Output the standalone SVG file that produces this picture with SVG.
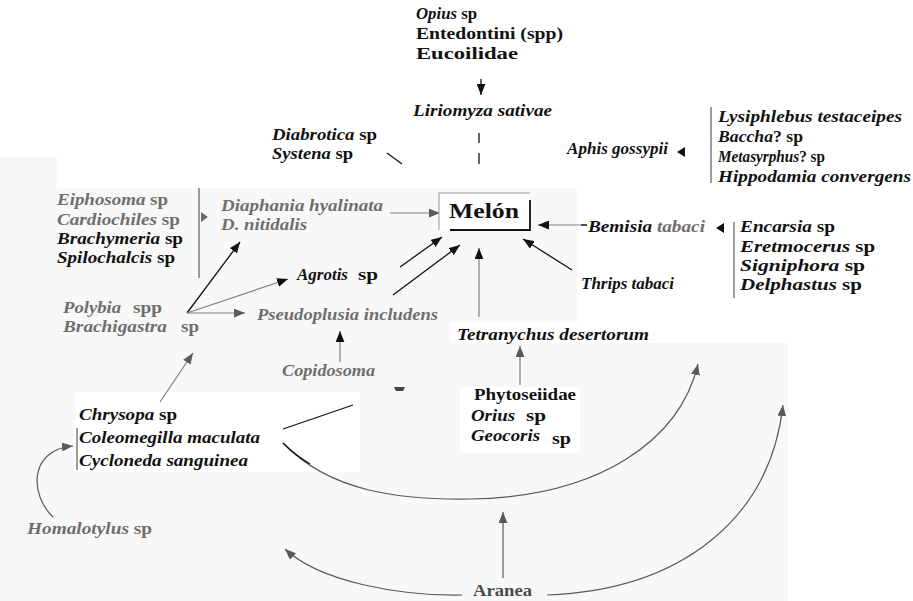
<svg xmlns="http://www.w3.org/2000/svg" width="913" height="601" viewBox="0 0 913 601" font-family="Liberation Serif, Times New Roman, serif">
<style>
text{font-weight:bold;font-size:17px;fill:#111}
.i{font-style:italic}
.g{fill:#6e6e6e}
.a{fill:#4a4a4a}
.lb{stroke:#111;stroke-width:1.3;fill:none}
.lg{stroke:#808080;stroke-width:1.2;fill:none}
.la{stroke:#5a5a5a;stroke-width:1.2;fill:none}
.hb{fill:#111}
.hg{fill:#6a6a6a}
</style>
<defs>
<marker id="mb" viewBox="0 0 10 8" refX="10" refY="4" markerWidth="11" markerHeight="9" markerUnits="userSpaceOnUse" orient="auto"><path d="M0,0 L10,4 L0,8 z" fill="#111"/></marker>
<marker id="mg" viewBox="0 0 10 8" refX="10" refY="4" markerWidth="11" markerHeight="9" markerUnits="userSpaceOnUse" orient="auto"><path d="M0,0 L10,4 L0,8 z" fill="#5a5a5a"/></marker>
</defs>
<rect width="913" height="601" fill="#fff"/>
<g id="background">
<path d="M0,157 H57 V188 H577 V322 H450 V343 H788 V601 H0 Z" fill="#f8f8f8"/>
<rect x="75" y="392" width="285" height="80" fill="#fff"/>
<rect x="460" y="387" width="120" height="66" fill="#fff"/>
</g>
<g id="connectors">
<line x1="481" y1="79" x2="481" y2="95" class="lb" marker-end="url(#mb)"/>
<line x1="479" y1="133" x2="479" y2="143" class="lb" stroke-width="1"/>
<line x1="479" y1="153" x2="479" y2="164" class="lb" stroke-width="1"/>
<line x1="387" y1="153" x2="402" y2="164" class="lb" stroke-width="1"/>
<polygon points="677,152 685,147 685,157" class="hb"/>
<line x1="711" y1="107" x2="711" y2="183" class="la" stroke-width="1"/>
<line x1="587" y1="225" x2="538" y2="225" class="lg" marker-end="url(#mb)"/>
<line x1="581" y1="225" x2="587" y2="225" class="lb"/>
<polygon points="716,228 724,223 724,233" class="hb"/>
<line x1="734" y1="222" x2="734" y2="298" class="la" stroke-width="1"/>
<line x1="572" y1="270" x2="523" y2="239" class="lb" marker-end="url(#mb)"/>
<line x1="199" y1="188" x2="199" y2="278" class="la" stroke-width="1.3"/>
<polygon points="208,217 201,212 201,222" class="hg"/>
<line x1="390" y1="213" x2="440" y2="213" class="lg" marker-end="url(#mg)"/>
<line x1="187" y1="313" x2="240" y2="242" class="lb" marker-end="url(#mb)"/>
<line x1="187" y1="313" x2="288" y2="279" class="lg" marker-end="url(#mb)"/>
<line x1="187" y1="313" x2="245" y2="313" class="lg" marker-end="url(#mg)"/>
<line x1="400" y1="267" x2="442" y2="237" class="lb" marker-end="url(#mb)"/>
<line x1="393" y1="295" x2="460" y2="245" class="lb" marker-end="url(#mb)"/>
<line x1="479" y1="317" x2="479" y2="248" class="lg" marker-end="url(#mb)"/>
<line x1="340" y1="362" x2="340" y2="331" class="lg" marker-end="url(#mb)"/>
<polygon points="394,387 405,387 403,391 396,391" fill="#444"/>
<line x1="520" y1="385" x2="520" y2="346" class="lg" marker-end="url(#mg)"/>
<line x1="160" y1="402" x2="193" y2="353" class="lg" marker-end="url(#mg)"/>
<line x1="283" y1="429" x2="353" y2="405" class="lb" stroke-width="1.5"/>
<path d="M283,443 C330,492 400,500 470,499 C600,497 680,440 698,364" class="la" marker-end="url(#mg)"/>
<path d="M283,443 C292,452 300,458 310,464" class="lb" stroke-width="1.4"/>
<path d="M547,595 C680,590 770,520 783,405" class="la" marker-end="url(#mg)"/>
<path d="M462,595 C400,596 320,582 285,549" class="la" marker-end="url(#mg)"/>
<line x1="503" y1="578" x2="503" y2="512" class="la" marker-end="url(#mg)"/>
<path d="M53,517 C30,495 28,450 73,446" class="la" marker-end="url(#mg)"/>
<line x1="77" y1="428" x2="77" y2="470" class="la" stroke-width="1"/>
</g>
<g id="parasitoids-liriomyza">
<text x="416" y="19" textLength="61" lengthAdjust="spacingAndGlyphs"><tspan class="i">Opius</tspan> sp</text>
<text x="416" y="39" textLength="147" lengthAdjust="spacingAndGlyphs">Entedontini (spp)</text>
<text x="416" y="59" textLength="102" lengthAdjust="spacingAndGlyphs">Eucoilidae</text>
</g>
<g id="liriomyza">
<text x="413" y="116" class="i" textLength="139" lengthAdjust="spacingAndGlyphs">Liriomyza sativae</text>
</g>
<g id="diabrotica">
<text x="272" y="140" textLength="105" lengthAdjust="spacingAndGlyphs"><tspan class="i">Diabrotica</tspan> sp</text>
<text x="272" y="159" textLength="81" lengthAdjust="spacingAndGlyphs"><tspan class="i">Systena</tspan> sp</text>
</g>
<g id="aphis">
<text x="567" y="154" class="i" textLength="101" lengthAdjust="spacingAndGlyphs">Aphis gossypii</text>
</g>
<g id="enemies-aphis">
<text x="718" y="122" class="i" textLength="184" lengthAdjust="spacingAndGlyphs">Lysiphlebus testaceipes</text>
<text x="718" y="142" textLength="85" lengthAdjust="spacingAndGlyphs"><tspan class="i">Baccha</tspan>? sp</text>
<text x="718" y="162" textLength="107" lengthAdjust="spacingAndGlyphs"><tspan class="i">Metasyrphus</tspan>? sp</text>
<text x="718" y="182" class="i" textLength="193" lengthAdjust="spacingAndGlyphs">Hippodamia convergens</text>
</g>
<g id="melon">
<rect x="439" y="193" width="91" height="37" fill="#fff"/>
<path d="M439,230 V193 H530" fill="none" stroke="#999" stroke-width="1"/>
<path d="M530,200 V230 H450" fill="none" stroke="#111" stroke-width="1.8"/>
<text x="449" y="218" style="font-size:22px" textLength="70" lengthAdjust="spacingAndGlyphs">Melón</text>
</g>
<g id="bemisia">
<text x="588" y="232" class="i" textLength="117" lengthAdjust="spacingAndGlyphs">Bemisia <tspan class="g">tabaci</tspan></text>
</g>
<g id="enemies-bemisia">
<text x="740" y="232" textLength="95" lengthAdjust="spacingAndGlyphs"><tspan class="i">Encarsia</tspan> sp</text>
<text x="740" y="252" textLength="135" lengthAdjust="spacingAndGlyphs"><tspan class="i">Eretmocerus</tspan> sp</text>
<text x="740" y="271" textLength="125" lengthAdjust="spacingAndGlyphs"><tspan class="i">Signiphora</tspan> sp</text>
<text x="740" y="290" textLength="122" lengthAdjust="spacingAndGlyphs"><tspan class="i">Delphastus</tspan> sp</text>
</g>
<g id="thrips">
<text x="581" y="289" class="i" textLength="93" lengthAdjust="spacingAndGlyphs">Thrips tabaci</text>
</g>
<g id="parasitoids-diaphania">
<text x="57" y="205" class="g" textLength="111" lengthAdjust="spacingAndGlyphs"><tspan class="i">Eiphosoma</tspan> sp</text>
<text x="57" y="225" class="g" textLength="123" lengthAdjust="spacingAndGlyphs"><tspan class="i">Cardiochiles</tspan> sp</text>
<text x="57" y="244" textLength="126" lengthAdjust="spacingAndGlyphs"><tspan class="i">Brachymeria</tspan> sp</text>
<text x="57" y="263" textLength="118" lengthAdjust="spacingAndGlyphs"><tspan class="i">Spilochalcis</tspan> sp</text>
</g>
<g id="diaphania">
<text x="221" y="211" class="i g" textLength="162" lengthAdjust="spacingAndGlyphs">Diaphania hyalinata</text>
<text x="221" y="230" class="i g" textLength="86" lengthAdjust="spacingAndGlyphs">D. nitidalis</text>
</g>
<g id="agrotis">
<text y="280"><tspan x="297" class="i" textLength="51" lengthAdjust="spacingAndGlyphs">Agrotis</tspan><tspan x="358" textLength="20" lengthAdjust="spacingAndGlyphs">sp</tspan></text>
</g>
<g id="polybia">
<text y="313" class="g"><tspan x="63" class="i" textLength="58" lengthAdjust="spacingAndGlyphs">Polybia</tspan><tspan x="133" textLength="29" lengthAdjust="spacingAndGlyphs">spp</tspan></text>
<text y="332" class="g"><tspan x="63" class="i" textLength="104" lengthAdjust="spacingAndGlyphs">Brachigastra</tspan><tspan x="181" textLength="18" lengthAdjust="spacingAndGlyphs">sp</tspan></text>
</g>
<g id="pseudoplusia">
<text x="257" y="320" class="i g" textLength="181" lengthAdjust="spacingAndGlyphs">Pseudoplusia includens</text>
</g>
<g id="copidosoma">
<text x="282" y="376" class="i g" textLength="93" lengthAdjust="spacingAndGlyphs">Copidosoma</text>
</g>
<g id="tetranychus">
<text x="457" y="340" class="i" textLength="192" lengthAdjust="spacingAndGlyphs">Tetranychus desertorum</text>
</g>
<g id="phytoseiidae">
<text x="474" y="400" textLength="102" lengthAdjust="spacingAndGlyphs">Phytoseiidae</text>
<text y="421"><tspan x="471" class="i" textLength="44" lengthAdjust="spacingAndGlyphs">Orius</tspan><tspan x="526" textLength="20" lengthAdjust="spacingAndGlyphs">sp</tspan></text>
<text y="441"><tspan x="471" class="i" textLength="69" lengthAdjust="spacingAndGlyphs">Geocoris</tspan><tspan x="552" y="444" textLength="19" lengthAdjust="spacingAndGlyphs">sp</tspan></text>
</g>
<g id="chrysopa">
<text x="79" y="420" textLength="98" lengthAdjust="spacingAndGlyphs"><tspan class="i">Chrysopa</tspan> sp</text>
<text x="79" y="443" class="i" textLength="181" lengthAdjust="spacingAndGlyphs">Coleomegilla maculata</text>
<text x="79" y="466" class="i" textLength="169" lengthAdjust="spacingAndGlyphs">Cycloneda sanguinea</text>
</g>
<g id="homalotylus">
<text x="27" y="534" class="g" textLength="125" lengthAdjust="spacingAndGlyphs"><tspan class="i">Homalotylus</tspan> sp</text>
</g>
<g id="aranea">
<text x="473" y="596" class="a" textLength="59" lengthAdjust="spacingAndGlyphs">Aranea</text>
</g>
</svg>
